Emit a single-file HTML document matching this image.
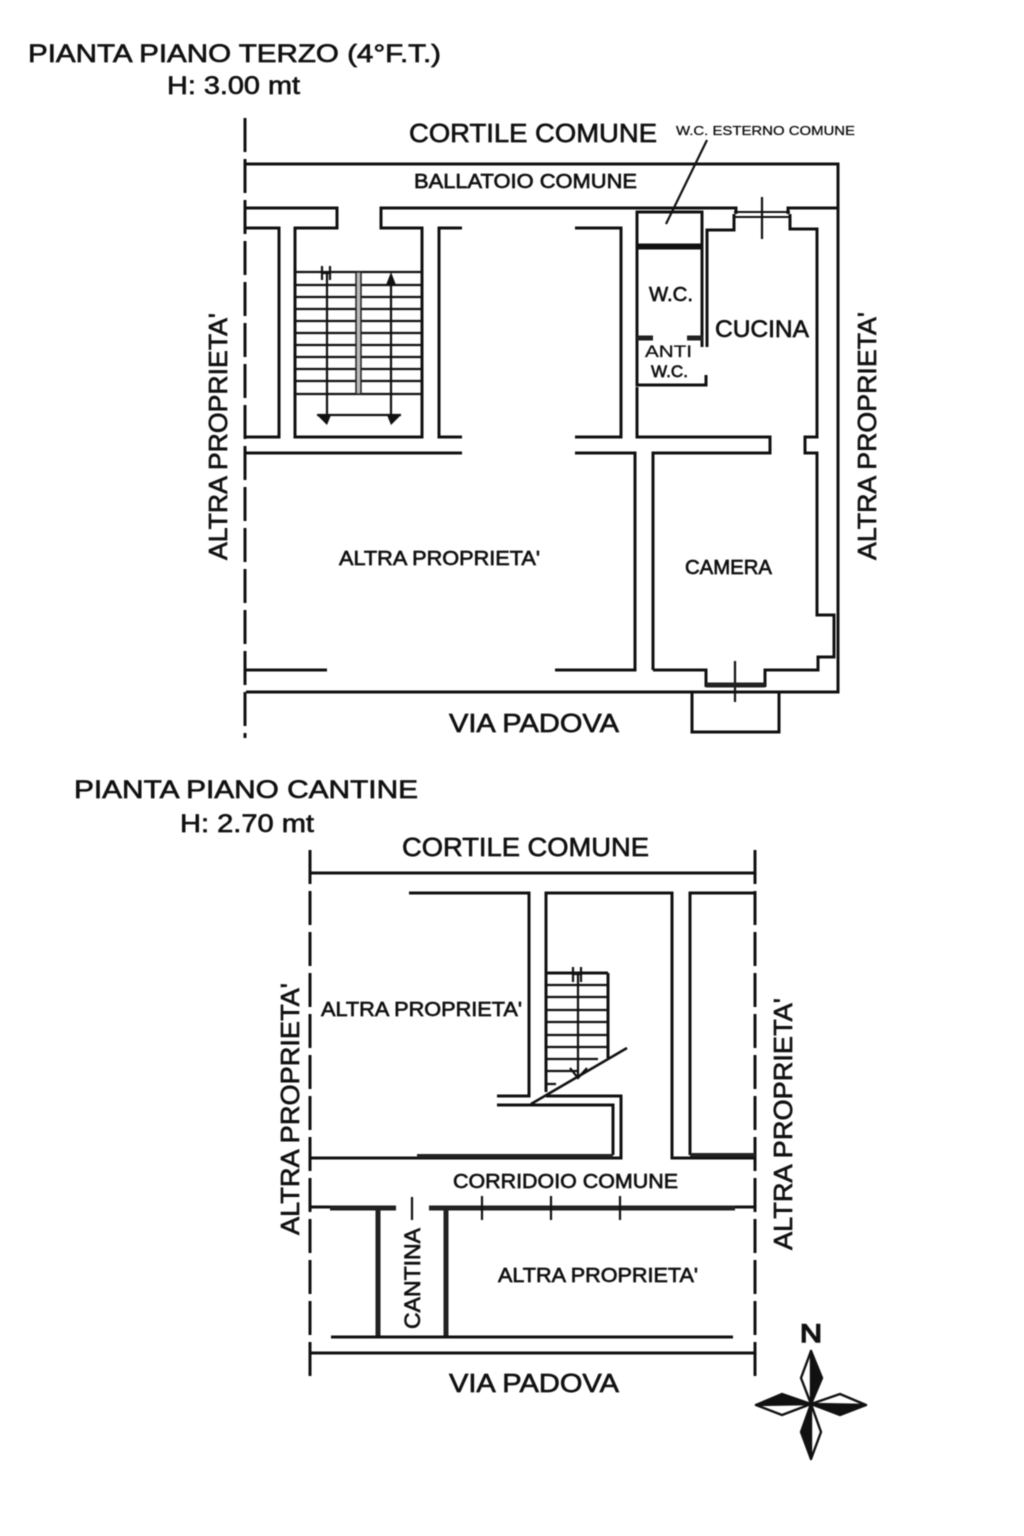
<!DOCTYPE html>
<html><head><meta charset="utf-8">
<style>
html,body{margin:0;padding:0;background:#fff;width:1024px;height:1536px;overflow:hidden}
svg{display:block;filter:blur(.45px)}
text{font-family:"Liberation Sans",sans-serif;fill:#111;stroke:#111;stroke-width:.65px;font-size:24px}
.w{fill:none;stroke:#111;stroke-width:3;stroke-linejoin:miter}
.t{fill:none;stroke:#111;stroke-width:2.2}
.k{fill:none;stroke:#222;stroke-width:5}
.d{fill:none;stroke:#111;stroke-width:3;stroke-dasharray:34 7}
</style></head><body>
<svg width="1024" height="1536" viewBox="0 0 1024 1536" xmlns="http://www.w3.org/2000/svg">
<rect width="1024" height="1536" fill="#fff"/>

<!-- PLAN 1 -->
<path class="d" d="M245 118V738"/>
<path class="w" d="M246 164H838V692H246"/>
<path class="w" d="M246 208H337V228H295V437H422V228H381V208H736V214M788 214V208H838"/>
<path class="w" d="M246 228H279V437H246M246 453H462M462 228H439V437H462"/>
<path class="w" d="M575 228H621V437H575M575 453H635V670H555M653 670V453H770V437H637V387M246 670H327"/>
<path class="w" d="M637 212H702V245H637ZM637 248H702V347M707 347V230H734V214M790 214V229H817V437H805V453H817V615H834V657H818V670H765V687M706 687V670H653"/>
<path class="w" d="M637 212V385H706V375"/>
<path class="k" d="M637 338H653M687 338H703"/>
<path class="t" d="M734 212H790M734 217H790" style="stroke-width:2"/>
<path class="t" d="M762 197V239M735 661V702"/>
<path class="k" d="M706 685H765"/>
<path class="w" d="M692 692V732H779V692"/>
<path class="t" d="M707 140L666 224"/>

<!-- stairs 1 -->
<path class="t" d="M295 272H422M295 285H422M295 297H422M295 309H422M295 321H422M295 333H422M295 345H422M295 357H422M295 369H422M295 381H422M295 394H422"/>
<rect x="356" y="272" width="5" height="122" fill="#bbb" stroke="#222" stroke-width="1.5"/>
<path class="t" d="M327 272V418M391 285V418M317 415H401"/>
<path d="M317 415L327 425L331 415ZM401 415L391 425L387 415ZM391 272L386 285H396Z" fill="#111"/>
<path class="t" d="M322 266V280M330 266V280M322 273H330"/>

<!-- PLAN 2 -->
<path class="d" d="M310 850V1378M755 850V1378"/>
<path class="w" d="M310 873H755M310 1353H755M310 1158H417M755 1158H672V893H546V1092M409 893H529V1096H497M755 893H690V1155"/>
<path class="w" d="M546 1096H621V1158H417M497 1105H613V1155"/>
<path class="k" d="M417 1156H613M690 1155H755" style="stroke-width:4"/>
<path class="w" d="M608 973V1058M546 973H608"/>
<path class="t" d="M546 985H608M546 997H608M546 1010H608M546 1022H608M546 1035H608M546 1047H608M546 1059H598M546 1071H578M546 1084H556"/>
<path class="t" d="M578 973V1078M570 1068L578 1078L587 1068"/>
<path class="t" d="M573 967V982M581 967V982M573 974H581"/>
<path class="w" d="M531 1104L627 1048" style="stroke-width:2.5"/>
<path class="w" d="M310 1207H396M429 1207H755"/>
<path class="k" d="M330 1208H396M429 1208H735"/>
<path class="t" d="M412 1197V1220M482 1196V1220M551 1196V1220M620 1196V1220"/>
<path class="k" d="M378 1208V1337M446 1208V1337"/>
<path class="w" d="M331 1337H733"/>

<!-- compass -->
<g stroke="#111" stroke-width="2.4" stroke-linejoin="round">
<path d="M811 1351L822 1378L811 1404Z" fill="#111"/>
<path d="M811 1351L801 1378L811 1404Z" fill="#fff"/>
<path d="M811 1459L801 1432L811 1404Z" fill="#111"/>
<path d="M811 1459L821 1432L811 1404Z" fill="#fff"/>
<path d="M866 1405L840 1415L811 1404Z" fill="#111"/>
<path d="M866 1405L840 1394L811 1404Z" fill="#fff"/>
<path d="M756 1405L782 1394L811 1404Z" fill="#111"/>
<path d="M756 1405L782 1415L811 1404Z" fill="#fff"/>
</g>
<text x="800" y="1342" textLength="22" lengthAdjust="spacingAndGlyphs" style="font-size:25px;stroke-width:1.4px">N</text>

<!-- labels plan 1 -->
<text x="28" y="62" textLength="413" lengthAdjust="spacingAndGlyphs" style="font-size:25px">PIANTA PIANO TERZO (4°F.T.)</text>
<text x="167" y="94" textLength="133" lengthAdjust="spacingAndGlyphs" style="font-size:25px">H: 3.00 mt</text>
<text x="409" y="142" textLength="248" lengthAdjust="spacingAndGlyphs" style="font-size:26px">CORTILE COMUNE</text>
<text x="676" y="135" textLength="179" lengthAdjust="spacingAndGlyphs" style="font-size:13px;stroke-width:.3px">W.C. ESTERNO COMUNE</text>
<text x="414" y="188" textLength="223" lengthAdjust="spacingAndGlyphs" style="font-size:20px">BALLATOIO COMUNE</text>
<text transform="translate(227,560) rotate(-90)" textLength="247" lengthAdjust="spacingAndGlyphs" style="font-size:26px">ALTRA PROPRIETA'</text>
<text transform="translate(876,560) rotate(-90)" textLength="248" lengthAdjust="spacingAndGlyphs" style="font-size:26px">ALTRA PROPRIETA'</text>
<text x="339" y="565" textLength="201" lengthAdjust="spacingAndGlyphs" style="font-size:20px">ALTRA PROPRIETA'</text>
<text x="649" y="301" textLength="44" lengthAdjust="spacingAndGlyphs" style="font-size:20px">W.C.</text>
<text x="715" y="337" textLength="94" lengthAdjust="spacingAndGlyphs" style="font-size:24px">CUCINA</text>
<text x="645" y="357" textLength="47" lengthAdjust="spacingAndGlyphs" style="font-size:17px;stroke-width:.3px">ANTI</text>
<text x="651" y="377" textLength="37" lengthAdjust="spacingAndGlyphs" style="font-size:17px">W.C.</text>
<text x="685" y="574" textLength="87" lengthAdjust="spacingAndGlyphs" style="font-size:20px">CAMERA</text>
<text x="449" y="732" textLength="170" lengthAdjust="spacingAndGlyphs" style="font-size:26px">VIA PADOVA</text>

<!-- labels plan 2 -->
<text x="74" y="798" textLength="344" lengthAdjust="spacingAndGlyphs" style="font-size:25px">PIANTA PIANO CANTINE</text>
<text x="180" y="832" textLength="134" lengthAdjust="spacingAndGlyphs" style="font-size:25px">H: 2.70 mt</text>
<text x="402" y="856" textLength="247" lengthAdjust="spacingAndGlyphs" style="font-size:26px">CORTILE COMUNE</text>
<text transform="translate(299,1235) rotate(-90)" textLength="252" lengthAdjust="spacingAndGlyphs" style="font-size:26px">ALTRA PROPRIETA'</text>
<text transform="translate(792,1250) rotate(-90)" textLength="252" lengthAdjust="spacingAndGlyphs" style="font-size:26px">ALTRA PROPRIETA'</text>
<text x="321" y="1016" textLength="201" lengthAdjust="spacingAndGlyphs" style="font-size:20px">ALTRA PROPRIETA'</text>
<text x="453" y="1188" textLength="225" lengthAdjust="spacingAndGlyphs" style="font-size:20px">CORRIDOIO COMUNE</text>
<text transform="translate(420,1329) rotate(-90)" textLength="101" lengthAdjust="spacingAndGlyphs" style="font-size:22px">CANTINA</text>
<text x="498" y="1282" textLength="200" lengthAdjust="spacingAndGlyphs" style="font-size:20px">ALTRA PROPRIETA'</text>
<text x="449" y="1392" textLength="170" lengthAdjust="spacingAndGlyphs" style="font-size:26px">VIA PADOVA</text>
</svg>
</body></html>
